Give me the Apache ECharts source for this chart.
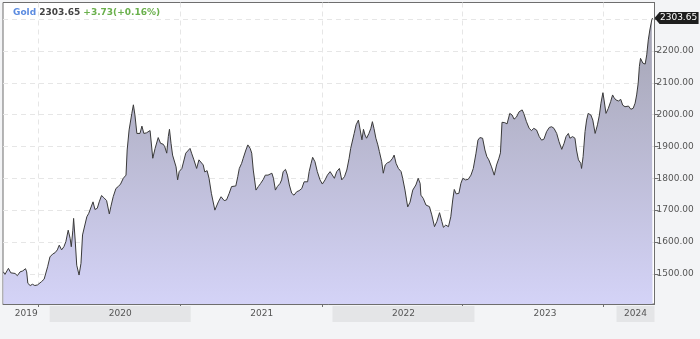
<!DOCTYPE html>
<html>
<head>
<meta charset="utf-8">
<script src="https://cdn.jsdelivr.net/npm/echarts@6/dist/echarts.min.js"></script>
<style>
  html, body { margin: 0; padding: 0; background: #f3f4f6; }
  #chart { width: 700px; height: 339px; }
</style>
</head>
<body>
<div id="chart"></div>
<script>
// quote header
const symbolName = 'Gold';
const lastPrice = '2303.65';
const change = '+3.73(+0.16%)';

// price readings (date, close)
const dates = [
  '2019-09-05','2019-09-09','2019-09-18','2019-09-24','2019-09-29','2019-10-05','2019-10-11','2019-10-18','2019-10-25','2019-11-01',
  '2019-11-04','2019-11-07','2019-11-13','2019-11-19','2019-11-25','2019-12-02','2019-12-06','2019-12-12','2019-12-19','2019-12-24',
  '2019-12-28','2020-01-03','2020-01-10','2020-01-16','2020-01-22','2020-01-27','2020-02-02','2020-02-08','2020-02-13','2020-02-19',
  '2020-02-24','2020-02-27','2020-03-02','2020-03-04','2020-03-08','2020-03-12','2020-03-18','2020-03-23','2020-03-27','2020-03-31',
  '2020-04-07','2020-04-12','2020-04-17','2020-04-23','2020-04-28','2020-05-04','2020-05-09','2020-05-15','2020-05-21','2020-05-28',
  '2020-06-04','2020-06-08','2020-06-14','2020-06-21','2020-06-27','2020-07-03','2020-07-10','2020-07-17','2020-07-20','2020-07-25',
  '2020-08-01','2020-08-05','2020-08-09','2020-08-14','2020-08-18','2020-08-22','2020-08-27','2020-09-01','2020-09-08','2020-09-13',
  '2020-09-17','2020-09-24','2020-09-30','2020-10-08','2020-10-14','2020-10-21','2020-10-25','2020-10-30','2020-11-03','2020-11-06',
  '2020-11-10','2020-11-14','2020-11-18','2020-11-23','2020-11-27','2020-12-01','2020-12-08','2020-12-13','2020-12-18','2020-12-23',
  '2020-12-29','2021-01-02','2021-01-08','2021-01-15','2021-01-21','2021-01-26','2021-02-01','2021-02-05','2021-02-11','2021-02-16',
  '2021-02-22','2021-03-03','2021-03-12','2021-03-19','2021-03-27','2021-04-02','2021-04-09','2021-04-15','2021-04-19','2021-04-26',
  '2021-05-01','2021-05-05','2021-05-11','2021-05-15','2021-05-22','2021-05-27','2021-06-02','2021-06-06','2021-06-10','2021-06-17',
  '2021-06-23','2021-06-29','2021-07-06','2021-07-11','2021-07-18','2021-07-23','2021-07-28','2021-08-01','2021-08-06','2021-08-11',
  '2021-08-18','2021-08-22','2021-08-26','2021-09-01','2021-09-06','2021-09-11','2021-09-17','2021-09-23','2021-09-30','2021-10-06',
  '2021-10-13','2021-10-19','2021-10-24','2021-10-28','2021-11-01','2021-11-06','2021-11-10','2021-11-16','2021-11-22','2021-11-29',
  '2021-12-05','2021-12-12','2021-12-18','2021-12-25','2021-12-30','2022-01-05','2022-01-11','2022-01-18','2022-01-24','2022-01-31',
  '2022-02-06','2022-02-12','2022-02-16','2022-02-21','2022-02-25','2022-03-02','2022-03-08','2022-03-12','2022-03-17','2022-03-21',
  '2022-03-25','2022-03-29','2022-04-04','2022-04-09','2022-04-13','2022-04-17','2022-04-22','2022-04-27','2022-05-01','2022-05-07',
  '2022-05-11','2022-05-16','2022-05-22','2022-05-28','2022-06-04','2022-06-08','2022-06-13','2022-06-19','2022-06-26','2022-06-30',
  '2022-07-06','2022-07-10','2022-07-13','2022-07-19','2022-07-26','2022-08-03','2022-08-09','2022-08-14','2022-08-16','2022-08-22',
  '2022-08-29','2022-09-07','2022-09-13','2022-09-20','2022-09-26','2022-10-03','2022-10-09','2022-10-13','2022-10-19','2022-10-26',
  '2022-11-01','2022-11-06','2022-11-10','2022-11-15','2022-11-22','2022-11-27','2022-12-02','2022-12-09','2022-12-16','2022-12-23',
  '2022-12-29','2023-01-05','2023-01-10','2023-01-15','2023-01-22','2023-01-28','2023-02-02','2023-02-07','2023-02-14','2023-02-21',
  '2023-02-27','2023-03-05','2023-03-09','2023-03-13','2023-03-20','2023-03-26','2023-04-02','2023-04-08','2023-04-13','2023-04-19',
  '2023-04-26','2023-05-04','2023-05-08','2023-05-15','2023-05-22','2023-05-28','2023-06-03','2023-06-10','2023-06-17','2023-06-23',
  '2023-06-29','2023-07-06','2023-07-13','2023-07-19','2023-07-25','2023-08-01','2023-08-07','2023-08-14','2023-08-20','2023-08-25',
  '2023-08-31','2023-09-04','2023-09-11','2023-09-17','2023-09-21','2023-09-26','2023-10-02','2023-10-04','2023-10-08','2023-10-13',
  '2023-10-17','2023-10-21','2023-10-28','2023-11-02','2023-11-08','2023-11-14','2023-11-19','2023-11-23','2023-11-28','2023-12-01',
  '2023-12-06','2023-12-12','2023-12-18','2023-12-23','2023-12-27','2024-01-01','2024-01-07','2024-01-13','2024-01-18','2024-01-24',
  '2024-01-28','2024-02-02','2024-02-08','2024-02-14','2024-02-19','2024-02-23','2024-02-27','2024-03-01','2024-03-04','2024-03-10',
  '2024-03-16','2024-03-20','2024-03-24','2024-03-28','2024-04-02','2024-04-04'
];
const prices = [
  1506,1498,1517,1503,1509,1501,1494,1506,1509,1516,
  1506,1470,1463,1467,1463,1465,1461,1475,1483,1485,
  1522,1553,1562,1566,1575,1590,1575,1585,1601,1637,
  1611,1585,1637,1674,1606,1527,1496,1533,1622,1627,
  1679,1690,1690,1726,1702,1706,1726,1746,1739,1730,
  1688,1711,1742,1768,1774,1782,1800,1810,1889,1952,
  2004,2031,1999,1941,1947,1941,1964,1941,1943,1947,
  1950,1863,1894,1928,1910,1907,1899,1879,1931,1954,
  1910,1873,1868,1836,1795,1821,1831,1836,1879,1884,
  1894,1879,1858,1831,1858,1852,1842,1820,1824,1800,
  1753,1700,1726,1742,1730,1732,1753,1774,1779,1776,
  1805,1831,1847,1863,1889,1905,1894,1879,1826,1763,
  1774,1784,1797,1810,1810,1805,1816,1800,1763,1774,
  1784,1795,1821,1828,1810,1779,1753,1747,1758,1761,
  1768,1789,1795,1789,1821,1847,1866,1852,1821,1795,
  1782,1795,1810,1821,1826,1800,1821,1831,1795,1805,
  1826,1863,1894,1899,1941,1968,1983,1978,1921,1954,
  1936,1926,1941,1957,1978,1957,1926,1905,1884,1852,
  1816,1842,1849,1852,1863,1873,1847,1831,1821,1800,
  1763,1732,1710,1725,1763,1779,1800,1784,1747,1737,
  1716,1711,1685,1648,1664,1692,1664,1646,1653,1648,
  1679,1732,1765,1751,1753,1784,1800,1795,1797,1810,
  1831,1879,1920,1928,1926,1889,1868,1858,1836,1810,
  1842,1863,1880,1976,1975,1971,2004,1999,1986,1992,
  2009,2015,2004,1978,1957,1950,1957,1952,1931,1920,
  1923,1947,1960,1962,1957,1941,1915,1891,1910,1931,
  1941,1926,1931,1926,1889,1858,1847,1831,1868,1947,
  1983,2004,1999,1983,1941,1968,1999,2036,2069,2046,
  2004,2020,2041,2062,2053,2046,2043,2048,2030,2025,
  2030,2027,2017,2020,2036,2062,2099,2151,2177,2162,
  2159,2188,2235,2266,2298,2303.65
];

// axis tick dates, year label positions, price ticks
const tickDates = ['2019-12-05', '2020-12-03', '2021-12-04', '2022-12-01', '2023-11-28'];
const yearLabelDates = ['2019-11-03', '2020-07-02', '2021-07-02', '2022-07-02', '2023-07-02', '2024-02-20'];
const priceTicks = [1500, 1600, 1700, 1800, 1900, 2000, 2100, 2200, 2300];
const priceLabels = [1500, 1600, 1700, 1800, 1900, 2000, 2100, 2200];

const ts = (d) => Date.parse(d + 'T00:00:00Z');

const chart = echarts.init(document.getElementById('chart'));
const seriesData = dates.map((d, i) => [ts(d), prices[i]]);
const font = 'DejaVu Sans';

const bandBase = { height: 16, lineHeight: 16, align: 'center', color: '#555', fontSize: 9, fontFamily: font };
const rich = {
  y2019: Object.assign({}, bandBase, { width: 46 }),
  y2020: Object.assign({}, bandBase, { width: 141, backgroundColor: '#e4e5e7' }),
  y2021: Object.assign({}, bandBase, { width: 141 }),
  y2022: Object.assign({}, bandBase, { width: 142, backgroundColor: '#e4e5e7' }),
  y2023: Object.assign({}, bandBase, { width: 142 }),
  y2024: Object.assign({}, bandBase, { width: 38, backgroundColor: '#e4e5e7' })
};

const titleText = { fontSize: 9, fontWeight: 'bold', fontFamily: font };

const option = {
  backgroundColor: '#f3f4f6',
  animation: false,
  title: {
    text: '{n|' + symbolName + '} {p|' + lastPrice + '} {c|' + change + '}',
    left: 13,
    top: 8,
    padding: 0,
    textStyle: {
      fontSize: 9,
      fontWeight: 'bold',
      fontFamily: font,
      rich: {
        n: Object.assign({ color: '#5b8be0' }, titleText),
        p: Object.assign({ color: '#444444' }, titleText),
        c: Object.assign({ color: '#6ab04c' }, titleText)
      }
    }
  },
  grid: {
    left: 3,
    right: 45.5,
    top: 2.5,
    bottom: 35,
    show: true,
    backgroundColor: '#ffffff',
    borderColor: '#6e6e6e',
    borderWidth: 1
  },
  xAxis: {
    type: 'value',
    min: ts('2019-09-04'),
    max: ts('2024-04-09'),
    axisLine: { show: true, lineStyle: { color: '#6e6e6e' } },
    axisTick: {
      show: true,
      length: 3,
      customValues: tickDates.map(ts),
      lineStyle: { color: '#6e6e6e' }
    },
    splitLine: {
      show: true,
      lineStyle: { color: '#e6e6e6', type: [5, 4] }
    },
    axisLabel: {
      customValues: yearLabelDates.map(ts),
      margin: 2,
      formatter: (v) => {
        const y = new Date(v).getUTCFullYear();
        return '{y' + y + '|' + y + '}';
      },
      rich: rich
    }
  },
  yAxis: {
    type: 'value',
    position: 'right',
    min: 1405,
    max: 2352.5,
    axisLine: { show: true, lineStyle: { color: '#6e6e6e' } },
    axisTick: {
      show: true,
      length: 4,
      customValues: priceTicks,
      lineStyle: { color: '#6e6e6e' }
    },
    splitLine: {
      show: true,
      lineStyle: { color: '#e6e6e6', type: [5, 4] }
    },
    axisLabel: {
      customValues: priceLabels,
      margin: 2,
      color: '#555',
      fontSize: 9,
      fontFamily: font,
      formatter: (v) => v.toFixed(2)
    }
  },
  series: [
    {
      type: 'line',
      data: seriesData,
      symbol: 'none',
      lineStyle: { color: '#3a3a3a', width: 1 },
      areaStyle: {
        opacity: 1,
        color: new echarts.graphic.LinearGradient(0, 0, 0, 1, [
          { offset: 0, color: '#a4a4b3' },
          { offset: 1, color: '#d4d3f7' }
        ])
      },
      markPoint: {
        symbol: 'path://M0,6 L5,0 L44,0 L44,12 L5,12 Z',
        symbolSize: [44, 12],
        symbolKeepAspect: false,
        symbolOffset: [24, 0],
        itemStyle: { color: '#1e1e1e' },
        label: {
          show: true,
          position: 'inside',
          offset: [2, 0],
          color: '#ffffff',
          fontSize: 9,
          fontFamily: font,
          formatter: () => lastPrice
        },
        data: [{ coord: [ts(dates[dates.length - 1]), prices[prices.length - 1]] }]
      }
    }
  ]
};

chart.setOption(option);
</script>
</body>
</html>
